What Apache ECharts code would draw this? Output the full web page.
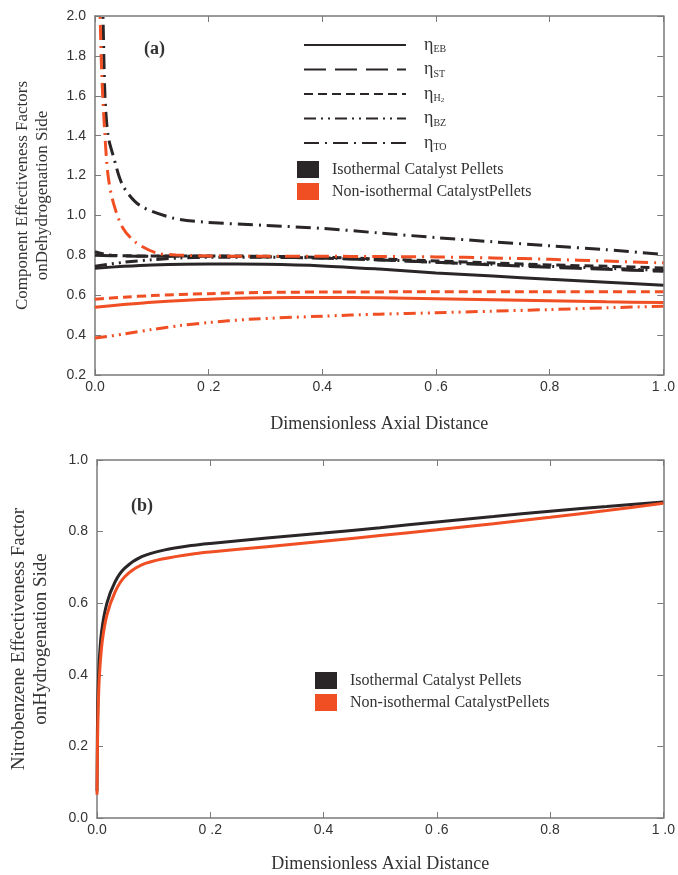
<!DOCTYPE html>
<html><head><meta charset="utf-8">
<script src="https://cdn.jsdelivr.net/npm/echarts@6/dist/echarts.min.js"></script>
<style>html,body{margin:0;padding:0;background:#fff;overflow:hidden}#c{width:678px;height:875px}</style>
</head><body><div id="c"></div>
<script>
// ---------- data (panel a) ----------
const isoEB = [[0,0.735],[0.05,0.745],[0.1,0.752],[0.2,0.757],[0.3,0.755],[0.4,0.747],[0.5,0.731],[0.6,0.712],[0.7,0.696],[0.8,0.68],[0.9,0.665],[1.0,0.65]];
const isoST = [[0,0.80],[0.05,0.797],[0.1,0.795],[0.2,0.795],[0.3,0.792],[0.4,0.786],[0.5,0.777],[0.6,0.765],[0.7,0.752],[0.8,0.74],[0.9,0.73],[1.0,0.72]];
const isoH2 = [[0,0.818],[0.03,0.80],[0.1,0.797],[0.2,0.797],[0.3,0.795],[0.4,0.79],[0.5,0.782],[0.6,0.772],[0.7,0.762],[0.8,0.752],[0.9,0.745],[1.0,0.737]];
const isoBZ = [[0,0.745],[0.05,0.765],[0.1,0.778],[0.15,0.787],[0.2,0.79],[0.3,0.79],[0.4,0.787],[0.5,0.778],[0.6,0.765],[0.7,0.755],[0.8,0.745],[0.9,0.735],[1.0,0.725]];
const isoTO = [[0.0125,2.1],[0.014,2.0],[0.0175,1.6],[0.023,1.4],[0.032,1.3],[0.049,1.15],[0.079,1.05],[0.137,0.987],[0.19,0.967],[0.3,0.95],[0.4,0.935],[0.5,0.912],[0.6,0.889],[0.7,0.868],[0.8,0.848],[0.9,0.828],[1.0,0.805]];
const nonEB = [[0,0.54],[0.05,0.553],[0.1,0.565],[0.2,0.58],[0.3,0.587],[0.4,0.589],[0.5,0.587],[0.6,0.582],[0.7,0.577],[0.8,0.572],[0.9,0.567],[1.0,0.563]];
const nonH2 = [[0,0.58],[0.05,0.59],[0.1,0.598],[0.2,0.608],[0.3,0.614],[0.4,0.616],[0.6,0.617],[0.8,0.617],[1.0,0.617]];
const nonBZ = [[0,0.385],[0.05,0.405],[0.1,0.428],[0.15,0.448],[0.2,0.463],[0.27,0.479],[0.4,0.495],[0.5,0.505],[0.6,0.512],[0.7,0.52],[0.8,0.528],[0.9,0.537],[1.0,0.545]];
const nonTO = [[0.008,2.1],[0.009,2.0],[0.012,1.7],[0.0175,1.4],[0.023,1.2],[0.032,1.067],[0.049,0.937],[0.073,0.862],[0.108,0.812],[0.143,0.802],[0.2,0.797],[0.3,0.795],[0.4,0.795],[0.5,0.794],[0.6,0.792],[0.7,0.787],[0.8,0.78],[0.9,0.771],[1.0,0.762]];
// ---------- data (panel b) ----------
const isoNB = [[0,0.075],[0.0005,0.2],[0.001,0.28],[0.002,0.36],[0.004,0.44],[0.008,0.52],[0.0175,0.60],[0.032,0.66],[0.049,0.698],[0.079,0.73],[0.12,0.749],[0.166,0.761],[0.2,0.767],[0.3,0.782],[0.4,0.796],[0.5,0.811],[0.6,0.827],[0.7,0.842],[0.8,0.857],[0.9,0.870],[1.0,0.883]];
const nonNB = [[0,0.065],[0.0005,0.15],[0.001,0.22],[0.002,0.3],[0.004,0.39],[0.009,0.49],[0.0175,0.567],[0.032,0.632],[0.049,0.674],[0.079,0.707],[0.12,0.725],[0.166,0.737],[0.2,0.743],[0.3,0.758],[0.4,0.773],[0.5,0.789],[0.6,0.805],[0.7,0.822],[0.8,0.84],[0.9,0.859],[1.0,0.879]];
// ---------- labels ----------
const xTickLabels = ['0.0','0 .2','0.4','0 .6','0.8','1 .0'];
const compNames = ['EB','ST','H2','BZ','TO'];
const groupNames = ['Isothermal Catalyst Pellets','Non-isothermal CatalystPellets'];

const BLACK = '#2a2527', ORANGE = '#f04e23', AX = '#7a7a7a';
const dash = {EB:'solid', ST:[22,9], H2:[9,5], BZ:[12,5,2,5,2,5], TO:[15,6,2,6]};

const chart = echarts.init(document.getElementById('c'));
const serif = '"Liberation Serif","Times New Roman",serif';
const sans = '"Liberation Sans",Arial,sans-serif';

function xAx(gi, top){
  return {gridIndex:gi, type:'value', min:0, max:1, interval:0.2, position: top?'top':'bottom',
    axisLine:{show:true, onZero:false, lineStyle:{color:AX, width:1.5}},
    axisTick:{show:true, inside:true, length:6, lineStyle:{color:AX}},
    splitLine:{show:false},
    axisLabel:{show:!top, color:'#333', fontFamily:sans, fontSize:14, margin:5,
      formatter:v=>xTickLabels[Math.round(v/0.2)]},
    name: top?'':'Dimensionless Axial Distance', nameLocation:'middle', nameGap: gi===0?40:37,
    nameTextStyle:{fontFamily:serif, fontSize:18, color:'#333'}};
}
function yAx(gi, right, min, max, name, fs, gap){
  return {gridIndex:gi, type:'value', min:min, max:max, interval:0.2, position: right?'right':'left',
    axisLine:{show:true, onZero:false, lineStyle:{color:AX, width:1.5}},
    axisTick:{show:true, inside:true, length:6, lineStyle:{color:AX}},
    splitLine:{show:false},
    axisLabel:{show:!right, color:'#333', fontFamily:sans, fontSize:14, margin:9, formatter:v=>v.toFixed(1)},
    name: right?'':name, nameLocation:'middle', nameGap:gap, nameRotate:90,
    nameTextStyle:{fontFamily:serif, fontSize:fs, color:'#333', lineHeight:fs+3}};
}

function line(name, data, color, key, xi, yi){
  return {name:name, type:'line', data:data, xAxisIndex:xi, yAxisIndex:yi, symbol:'none',
    smooth:0.3, silent:true,
    lineStyle:{color:color, width:3, type:dash[key]}, itemStyle:{color:color}, z:3};
}

const series = [
  line('iEB', isoEB, BLACK, 'EB', 0, 0),
  line('iST', isoST, BLACK, 'ST', 0, 0),
  line('iH2', isoH2, BLACK, 'H2', 0, 0),
  line('iBZ', isoBZ, BLACK, 'BZ', 0, 0),
  line('iTO', isoTO, BLACK, 'TO', 0, 0),
  line('nEB', nonEB, ORANGE, 'EB', 0, 0),
  line('nH2', nonH2, ORANGE, 'H2', 0, 0),
  line('nBZ', nonBZ, ORANGE, 'BZ', 0, 0),
  line('nTO', nonTO, ORANGE, 'TO', 0, 0),
  line('bIso', isoNB, BLACK, 'EB', 2, 2),
  line('bNon', nonNB, ORANGE, 'EB', 2, 2)
];
// legend-only series (line-style key)
compNames.forEach(k=>{
  series.push({name:k, type:'line', data:[], xAxisIndex:0, yAxisIndex:0, symbol:'none',
    lineStyle:{color:BLACK, width:3, type:dash[k]}, itemStyle:{color:BLACK}});
});
groupNames.forEach((g,i)=>{
  series.push({name:g, type:'line', data:[], xAxisIndex:0, yAxisIndex:0, symbol:'none',
    lineStyle:{color:i?ORANGE:BLACK}, itemStyle:{color:i?ORANGE:BLACK}});
});

const subs = {EB:'{e|η}{s|EB}', ST:'{e|η}{s|ST}', H2:'{e|η}{s|H}{t|2}', BZ:'{e|η}{s|BZ}', TO:'{e|η}{s|TO}'};

chart.setOption({
  animation:false,
  backgroundColor:'#fff',
  title:[
    {text:'(a)', left:139, top:35, textStyle:{fontFamily:serif, fontWeight:'bold', fontSize:18, color:'#333'}},
    {text:'(b)', left:126, top:492, textStyle:{fontFamily:serif, fontWeight:'bold', fontSize:18, color:'#333'}}
  ],
  grid:[
    {left:95, top:16, width:571, height:359},
    {left:95, top:460, width:571, height:358}
  ],
  xAxis:[xAx(0,false), xAx(0,true), xAx(1,false), xAx(1,true)],
  yAxis:[
    yAx(0,false,0.2,2.0,'Component Effectiveness Factors\nonDehydrogenation Side',17,42),
    yAx(0,true,0.2,2.0,''),
    yAx(1,false,0,1.0,'Nitrobenzene Effectiveness Factor\nonHydrogenation Side',19,45),
    yAx(1,true,0,1.0,'')
  ],
  legend:[
    {data:compNames.map(n=>({name:n, itemStyle:{opacity:0}})), orient:'vertical', left:298, top:31,
     itemWidth:102, itemHeight:14, itemGap:6, selectedMode:false,
     formatter:n=>subs[n],
     textStyle:{color:'#333', fontFamily:serif,
       rich:{e:{fontFamily:serif, fontSize:18, color:'#333', padding:[0,0,0,13]},
             s:{fontFamily:serif, fontSize:10, color:'#333', padding:[9,0,0,0]},
             t:{fontFamily:serif, fontSize:7, color:'#333', padding:[12,0,0,0]}}}},
    {data:groupNames.map(n=>({name:n, icon:'rect'})), orient:'vertical', left:292, top:156,
     itemWidth:22, itemHeight:17, itemGap:5, selectedMode:false,
     textStyle:{color:'#333', fontFamily:serif, fontSize:16, lineHeight:17, padding:[0,0,0,8]}},
    {data:groupNames.map(n=>({name:n, icon:'rect'})), orient:'vertical', left:310, top:667,
     itemWidth:22, itemHeight:17, itemGap:5, selectedMode:false,
     textStyle:{color:'#333', fontFamily:serif, fontSize:16, lineHeight:17, padding:[0,0,0,8]}}
  ],
  series:series
});
</script></body></html>
